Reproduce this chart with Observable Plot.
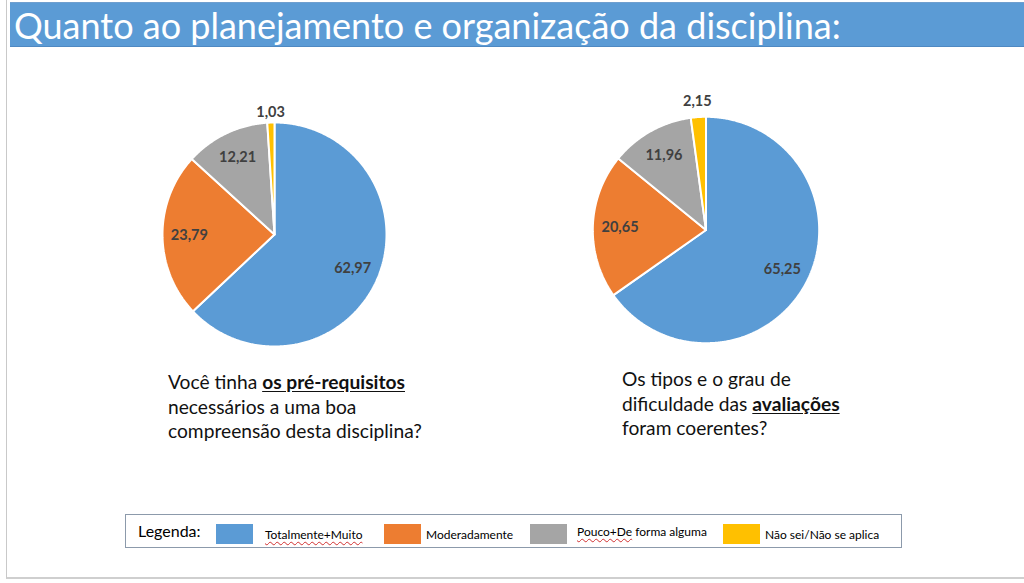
<!DOCTYPE html>
<html><head><meta charset="utf-8">
<script src="https://cdn.jsdelivr.net/npm/d3@7"></script>
<script src="https://cdn.jsdelivr.net/npm/@observablehq/plot@0.6"></script>
<style>
html,body{margin:0;padding:0;background:#fff;}
#slide{position:relative;width:1024px;height:583px;overflow:hidden;background:#fff;font-family:Lato,"Open Sans",sans-serif;color:#000;}
#frame{position:absolute;left:6px;top:0;width:1040px;height:577px;border-left:1px solid #c9c9c9;border-bottom:2px solid #cfcfcf;}
#title{position:absolute;left:10px;top:2px;width:1020px;height:45px;background:#5B9BD5;border-top:1px solid #6f9fcf;border-bottom:1px solid #4f89c2;color:#fff;font-size:36px;line-height:44px;padding-left:4px;box-sizing:border-box;white-space:nowrap;}
.q{position:absolute;font-size:19.2px;line-height:24.5px;color:#111;white-space:nowrap;}
.q b u{text-underline-offset:2px;}
.pie{position:absolute;}
#legend{position:absolute;left:125px;top:514px;width:777px;height:34px;border:1px solid #8c9aab;box-sizing:border-box;}
.lg{position:absolute;white-space:nowrap;}
.sw{position:absolute;top:9px;width:37px;height:20px;}
.wavy{text-decoration:underline wavy #d03030;text-decoration-thickness:1px;text-underline-offset:2px;}
</style>
</head><body>
<div id="slide">
  <div id="frame"></div>
  <div id="title">Quanto ao planejamento e organização da disciplina:</div>
  <div id="pieA" class="pie"></div>
  <div id="pieB" class="pie"></div>
  <div class="q" style="left:168px;top:370px;">Você tinha <b><u>os pré-requisitos</u></b><br>necessários a uma boa<br>compreensão desta disciplina?</div>
  <div class="q" style="left:622px;top:367px;">Os tipos e o grau de<br>dificuldade das <b><u>avaliações</u></b><br>foram coerentes?</div>
  <div id="legend"></div>
</div>
<script>
const categories = ["Totalmente+Muito", "Moderadamente", "Pouco+De forma alguma", "Não sei/Não se aplica"];
const colors = ["#5B9BD5", "#ED7D31", "#A5A5A5", "#FFC000"];
const valuesPreRequisitos = [62.97, 23.79, 12.21, 1.03];
const valuesAvaliacoes = [65.25, 20.65, 11.96, 2.15];

function fmt(v){ return v.toFixed(2).replace(".", ","); }

function pieChart(values, radiusPx, outerLabelR) {
  const total = d3.sum(values);
  let acc = 0;
  const polys = [], labels = [];
  values.forEach((v, i) => {
    const cat = categories[i];
    const a0 = acc / total * 2 * Math.PI; acc += v;
    const a1 = acc / total * 2 * Math.PI;
    const n = Math.max(2, Math.ceil((a1 - a0) / (Math.PI / 360)));
    polys.push({cat, x: 0, y: 0});
    for (let k = 0; k <= n; k++) {
      const a = a0 + (a1 - a0) * k / n;
      polys.push({cat, x: Math.sin(a), y: Math.cos(a)});
    }
    polys.push({cat, x: 0, y: 0});
    const am = (a0 + a1) / 2;
    const rl = v < 5 ? outerLabelR : 0.76;
    labels.push({cat, x: rl * Math.sin(am), y: rl * Math.cos(am), text: fmt(v)});
  });
  const R = 1.25;
  const size = Math.round(2 * R * radiusPx);
  return Plot.plot({
    width: size, height: size, margin: 0,
    x: {domain: [-R, R], axis: null},
    y: {domain: [-R, R], axis: null},
    color: {domain: categories, range: colors},
    style: {fontFamily: "Lato, 'Open Sans', sans-serif", background: "transparent", overflow: "visible"},
    marks: [
      Plot.line(polys, {x: "x", y: "y", z: "cat", fill: "cat", stroke: "white", strokeWidth: 2, strokeLinejoin: "miter"}),
      Plot.text(labels, {x: "x", y: "y", text: "text", fontSize: 14.5, fontWeight: "bold", fill: "#404040"})
    ]
  });
}

function place(id, chart, cx, cy) {
  const el = document.getElementById(id);
  const w = +chart.getAttribute("width");
  el.style.left = (cx - w / 2) + "px";
  el.style.top = (cy - w / 2) + "px";
  el.appendChild(chart);
}
place("pieA", pieChart(valuesPreRequisitos, 112, 1.09), 274, 234);
place("pieB", pieChart(valuesAvaliacoes, 113, 1.14), 705, 229);

// legend
const legend = document.getElementById("legend");
const lgX = [216, 384, 530, 723];
const txX = [265, 426, 577, 765];
const lab = document.createElement("div");
lab.className = "lg"; lab.style.left = (137 - 125) + "px"; lab.style.top = "6px"; lab.style.fontSize = "16px";
lab.textContent = "Legenda:";
legend.appendChild(lab);
categories.forEach((c, i) => {
  const sw = document.createElement("div");
  sw.className = "sw"; sw.style.left = (lgX[i] - 126) + "px"; sw.style.background = colors[i];
  legend.appendChild(sw);
  const t = document.createElement("div");
  t.className = "lg"; t.style.left = (txX[i] - 126) + "px"; t.style.top = (i === 2 ? 9 : 12) + "px"; t.style.fontSize = "12px";
  if (i === 0) t.innerHTML = '<span class="wavy">' + c + '</span>';
  else if (i === 2) t.innerHTML = '<span class="wavy">Pouco+De</span> forma alguma';
  else t.textContent = c;
  legend.appendChild(t);
});
</script>
</body></html>
